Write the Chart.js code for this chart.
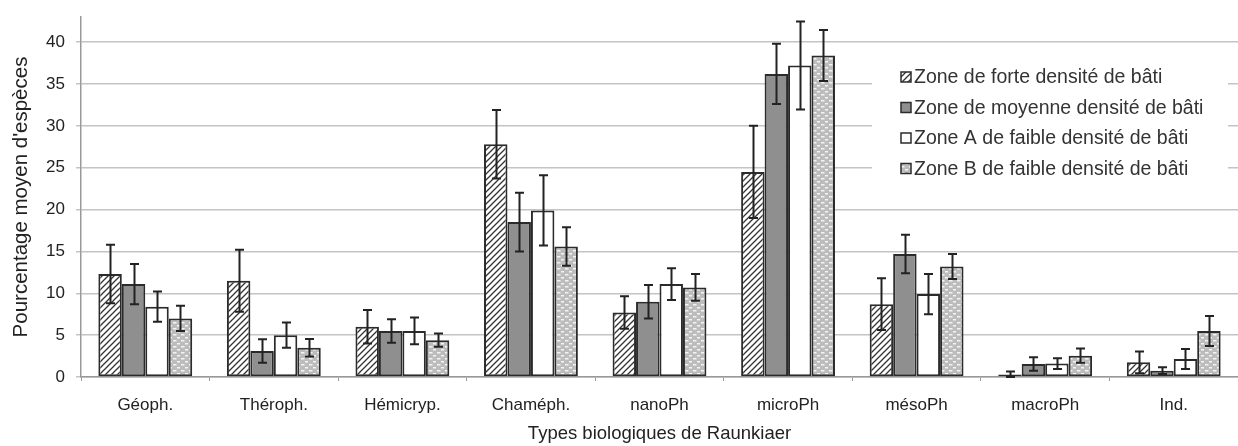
<!DOCTYPE html>
<html>
<head>
<meta charset="utf-8">
<script src="https://cdn.jsdelivr.net/npm/chart.js@4"></script>
<style>
  html, body { margin: 0; padding: 0; background: #fff; overflow: hidden; }
  #wrap { width: 1238px; height: 446px; }
</style>
</head>
<body>
<div id="wrap"><canvas id="chart" width="1238" height="446"></canvas></div>
<script>
const categories = ["Géoph.", "Théroph.", "Hémicryp.", "Chaméph.", "nanoPh", "microPh", "mésoPh", "macroPh", "Ind."];

const seriesNames = [
    "Zone de forte densité de bâti",
    "Zone de moyenne densité de bâti",
    "Zone A de faible densité de bâti",
    "Zone B de faible densité de bâti"
];

const forte = [12.3, 11.5, 6.0, 27.8, 7.7, 24.5, 8.7, 0.3, 1.75];
const forteErr = [3.5, 3.7, 2.0, 4.1, 1.95, 5.5, 3.1, 0.35, 1.3];
const moyenne = [11.1, 3.1, 5.5, 18.5, 9.0, 36.2, 14.7, 1.55, 0.75];
const moyenneErr = [2.4, 1.4, 1.4, 3.5, 2.0, 3.6, 2.3, 0.8, 0.4];
const faibleA = [8.4, 5.0, 5.5, 19.9, 11.1, 37.2, 9.9, 1.6, 2.15];
const faibleAErr = [1.8, 1.5, 1.6, 4.2, 1.9, 5.25, 2.4, 0.65, 1.2];
const faibleB = [7.0, 3.5, 4.4, 15.6, 10.7, 38.4, 13.2, 2.55, 5.5];
const faibleBErr = [1.5, 1.05, 0.8, 2.3, 1.6, 3.05, 1.5, 0.85, 1.8];

const yTicks = [0, 5, 10, 15, 20, 25, 30, 35, 40];

const FONT = "'Liberation Sans', Arial, sans-serif";

// fill patterns
function hatchPattern() {
    const c = document.createElement("canvas");
    c.width = 6; c.height = 6;
    const g = c.getContext("2d");
    g.fillStyle = "#fff";
    g.fillRect(0, 0, 6, 6);
    g.strokeStyle = "#333";
    g.lineWidth = 1.3;
    g.beginPath();
    g.moveTo(-1, 7); g.lineTo(7, -1);
    g.moveTo(-4, 4); g.lineTo(4, -4);
    g.moveTo(2, 10); g.lineTo(10, 2);
    g.stroke();
    return g.createPattern(c, "repeat");
}

function dotPattern() {
    const c = document.createElement("canvas");
    c.width = 8; c.height = 6;
    const g = c.getContext("2d");
    g.fillStyle = "#bcbcbc";
    g.fillRect(0, 0, 8, 6);
    g.fillStyle = "#f4f4f4";
    g.fillRect(1, 1, 3, 1.5);
    g.fillRect(5, 4, 3, 1.5);
    g.fillRect(0, 4, 0.5, 1.5);
    return g.createPattern(c, "repeat");
}

const fills = [hatchPattern(), "#8f8f8f", "#ffffff", dotPattern()];
const values = [forte, moyenne, faibleA, faibleB];
const errors = [forteErr, moyenneErr, faibleAErr, faibleBErr];

const datasets = values.map((v, i) => ({
    label: seriesNames[i],
    data: v,
    errors: errors[i],
    backgroundColor: fills[i],
    borderColor: "#2b2b2b",
    borderWidth: 2,
    borderSkipped: false,
    barPercentage: 1.0,
    categoryPercentage: 0.73
}));

const errorBars = {
    id: "errorBars",
    afterDatasetsDraw(chart) {
        const ctx = chart.ctx;
        const y = chart.scales.y;
        ctx.save();
        ctx.strokeStyle = "#222";
        ctx.lineWidth = 2;
        chart.data.datasets.forEach((ds, i) => {
            const meta = chart.getDatasetMeta(i);
            meta.data.forEach((bar, j) => {
                const v = ds.data[j], e = ds.errors[j];
                const top = y.getPixelForValue(v + e);
                const bot = y.getPixelForValue(Math.max(0, v - e));
                const x = Math.round(bar.x) + 0.5;
                ctx.beginPath();
                ctx.moveTo(x, top); ctx.lineTo(x, bot);
                ctx.moveTo(x - 4.5, top); ctx.lineTo(x + 4.5, top);
                ctx.moveTo(x - 4.5, bot); ctx.lineTo(x + 4.5, bot);
                ctx.stroke();
            });
        });
        ctx.restore();
    }
};

const boxLegend = {
    id: "boxLegend",
    afterDraw(chart) {
        const ctx = chart.ctx;
        ctx.save();
        ctx.fillStyle = "#fff";
        ctx.fillRect(872, 62, 356, 128);
        ctx.font = "19.5px " + FONT;
        ctx.textBaseline = "middle";
        chart.data.datasets.forEach((ds, i) => {
            const cy = 77 + i * 30.5;
            ctx.fillStyle = ds.backgroundColor;
            ctx.fillRect(901, cy - 5, 10, 10);
            ctx.strokeStyle = "#2b2b2b";
            ctx.lineWidth = 1.5;
            ctx.strokeRect(901, cy - 5, 10, 10);
            ctx.fillStyle = "#333";
            ctx.fillText(ds.label, 914, cy + 1);
        });
        ctx.restore();
    }
};

new Chart(document.getElementById("chart").getContext("2d"), {
    type: "bar",
    data: {
        labels: categories,
        datasets: datasets
    },
    options: {
        responsive: false,
        animation: false,
        layout: { padding: { top: 17, left: 0, right: 0, bottom: 0 } },
        plugins: {
            legend: { display: false },
            tooltip: { enabled: false }
        },
        scales: {
            x: {
                offset: true,
                grid: {
                    display: true,
                    drawOnChartArea: false,
                    drawTicks: true,
                    tickLength: 4,
                    color: "#999",
                    offset: true
                },
                border: { color: "#999", width: 1.5 },
                ticks: {
                    color: "#222",
                    font: { family: FONT, size: 17 },
                    padding: 14,
                    maxRotation: 0
                },
                title: {
                    display: true,
                    text: "Types biologiques de Raunkiaer",
                    color: "#222",
                    font: { family: FONT, size: 18.5 },
                    padding: { top: 4, bottom: 1 }
                },
                afterFit(scale) {
                    scale.height = 69;
                    scale.paddingLeft = 0;
                    scale.paddingRight = 0;
                }
            },
            y: {
                min: 0,
                max: 43,
                afterBuildTicks(scale) {
                    scale.ticks = yTicks.map(v => ({ value: v }));
                },
                grid: {
                    color: "#c4c4c4",
                    lineWidth: 1.5,
                    tickLength: 5
                },
                border: { color: "#999", width: 1.5 },
                ticks: {
                    color: "#222",
                    font: { family: FONT, size: 17 },
                    padding: 11
                },
                title: {
                    display: true,
                    text: "Pourcentage moyen d'espèces",
                    color: "#222",
                    font: { family: FONT, size: 20.5 },
                    padding: { top: 9, bottom: 0 }
                },
                afterFit(scale) {
                    scale.width = 81;
                    scale.paddingTop = 0;
                    scale.paddingBottom = 0;
                }
            }
        }
    },
    plugins: [errorBars, boxLegend]
});
</script>
</body>
</html>
